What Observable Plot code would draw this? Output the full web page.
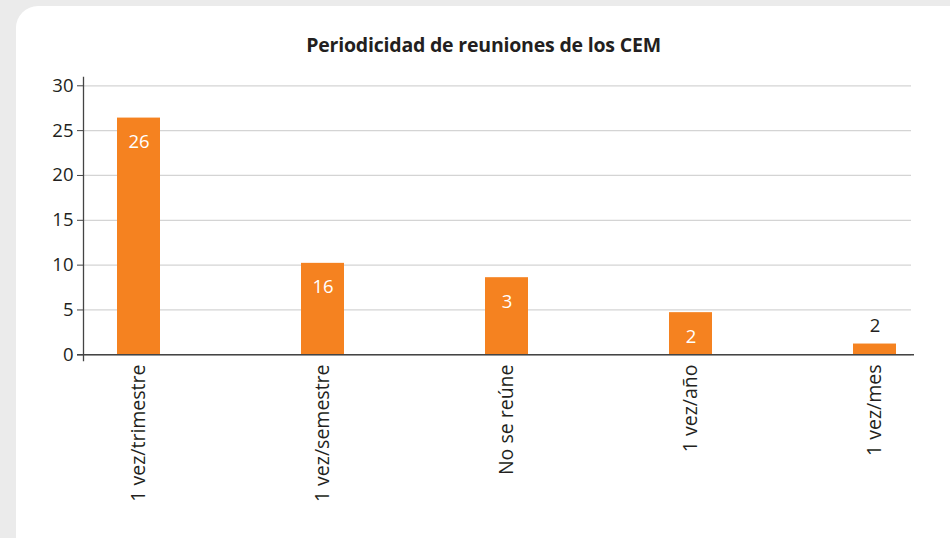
<!DOCTYPE html>
<html>
<head>
<meta charset="utf-8">
<script src="https://cdn.jsdelivr.net/npm/d3@7"></script>
<script src="https://cdn.jsdelivr.net/npm/@observablehq/plot@0.6"></script>
<style>
  html, body { margin: 0; padding: 0; }
  body { width: 950px; height: 538px; background: #ebebeb; position: relative; overflow: hidden; font-family: "Open Sans", sans-serif; }
  #card { position: absolute; left: 16px; top: 6px; width: 960px; height: 560px; background: #fff; border-radius: 22px; }
  #title { position: absolute; left: 0; top: 34px; width: 967px; line-height: 22px; text-align: center; font-weight: 700; font-size: 19.5px; color: #231f20; letter-spacing: -0.2px; }
  #chart { position: absolute; left: 0; top: 60px; }
</style>
</head>
<body>
<div id="card"></div>
<div id="title">Periodicidad de reuniones de los CEM</div>
<div id="chart"></div>
<script>
const categories = ["1 vez/trimestre", "1 vez/semestre", "No se reúne", "1 vez/año", "1 vez/mes"];
const values = [26.4, 10.2, 8.6, 4.7, 1.2];
const labels = ["26", "16", "3", "2", "2"];
const yTicks = [0, 5, 10, 15, 20, 25, 30];

const data = categories.map((c, i) => ({cat: c, value: values[i], label: labels[i]}));
const inside = data.filter(d => d.value >= 3);
const outside = data.filter(d => d.value < 3);

const ink = "#231f20";
const orange = "#f58220";

const chart = Plot.plot({
  width: 950,
  height: 478,
  marginLeft: 83,
  marginRight: 39,
  marginTop: 17,
  marginBottom: 178,
  style: {fontFamily: "Open Sans, sans-serif", color: ink, background: "transparent"},
  x: {domain: categories, range: [115, 897], paddingInner: 0.767, paddingOuter: 0, label: null},
  y: {domain: [0, 30], insetTop: 8.3, insetBottom: 5.7, label: null},
  marks: [
    Plot.gridY(yTicks, {stroke: "#d4d4d4", strokeOpacity: 1, strokeWidth: 1.3}),
    Plot.barY(data, {x: "cat", y: "value", fill: orange}),
    Plot.frame({anchor: "left", stroke: "#444", strokeWidth: 1.3}),
    Plot.ruleY([0], {stroke: "#444", strokeWidth: 1.6, insetLeft: -6, insetRight: -3}),
    Plot.axisY(yTicks, {tickSize: 6, tickPadding: 4, fontSize: 18.5, stroke: "#444", label: null, tickFormat: d => d}),
    Plot.axisX({tickSize: 0, tickPadding: 4, tickRotate: -90, fontSize: 19.5, label: null}),
    Plot.text(inside, {x: "cat", y: "value", text: "label", fill: "white", fontSize: 18.5, dy: 24}),
    Plot.text(outside, {x: "cat", y: "value", text: "label", fill: ink, fontSize: 18.5, dy: -18})
  ]
});
document.getElementById("chart").appendChild(chart);
</script>
</body>
</html>
